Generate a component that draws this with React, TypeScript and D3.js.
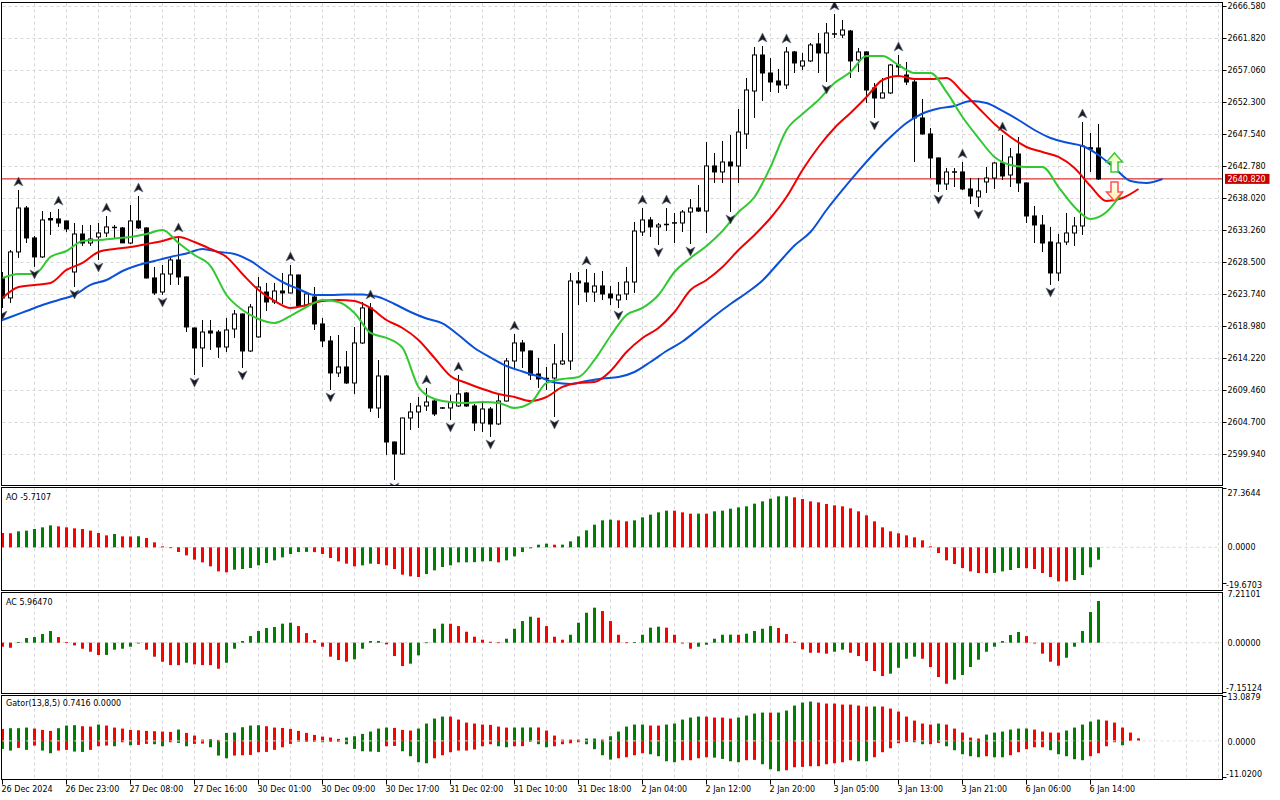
import * as d3 from "d3";

// XAUUSD H1, [open, high, low, close]
const candles: [number, number, number, number][] = [
  [2626.08, 2626.97, 2621.62, 2623.11], [2623.11, 2630.24, 2622.36, 2629.95], [2629.95, 2639.17, 2629.06, 2636.49],
  [2636.49, 2636.79, 2631.28, 2632.03], [2632.03, 2632.33, 2627.72, 2629.21], [2629.21, 2636.04, 2629.06, 2634.71],
  [2634.93, 2635.89, 2632.48, 2634.71], [2634.86, 2636.34, 2633.67, 2634.26], [2634.56, 2634.6, 2632.92, 2633.37],
  [2626.97, 2634.26, 2624.74, 2632.62], [2632.62, 2633.96, 2630.84, 2631.28], [2631.28, 2633.96, 2630.84, 2631.88],
  [2632.18, 2634.26, 2628.76, 2632.77], [2632.77, 2635.3, 2632.18, 2633.67], [2633.67, 2633.96, 2632.03, 2633.52],
  [2633.52, 2633.67, 2631.28, 2631.3], [2631.28, 2636.93, 2631.13, 2634.56], [2634.56, 2638.27, 2633.37, 2633.52],
  [2633.52, 2633.6, 2626.0, 2626.08], [2626.08, 2627.72, 2623.55, 2623.85], [2623.99, 2628.01, 2623.55, 2626.67],
  [2626.67, 2629.06, 2625.04, 2628.76], [2628.76, 2632.33, 2625.04, 2626.23], [2626.23, 2626.3, 2618.04, 2618.79],
  [2618.64, 2618.7, 2611.65, 2615.67], [2615.67, 2619.83, 2612.84, 2618.04], [2618.19, 2619.83, 2615.37, 2617.89],
  [2618.04, 2618.34, 2614.18, 2615.81], [2615.81, 2620.13, 2615.07, 2618.34], [2618.49, 2621.32, 2617.16, 2620.72],
  [2620.72, 2620.8, 2612.69, 2615.22], [2615.22, 2622.21, 2615.07, 2621.76], [2617.31, 2626.23, 2617.2, 2624.74],
  [2623.99, 2625.34, 2621.17, 2622.51], [2622.51, 2625.34, 2622.21, 2624.14], [2624.14, 2626.82, 2622.21, 2623.85],
  [2623.85, 2628.01, 2623.8, 2626.52], [2626.52, 2626.6, 2621.9, 2621.91], [2621.91, 2623.7, 2621.76, 2623.7],
  [2623.25, 2624.74, 2618.34, 2619.24], [2619.24, 2620.13, 2615.81, 2616.71], [2616.71, 2617.45, 2609.42, 2611.95],
  [2611.95, 2617.6, 2611.35, 2612.84], [2612.84, 2615.22, 2610.31, 2610.46], [2610.46, 2618.79, 2608.83, 2616.41],
  [2616.41, 2622.51, 2616.26, 2621.62], [2621.62, 2622.36, 2606.15, 2606.74], [2606.74, 2613.88, 2605.25, 2611.5],
  [2611.5, 2611.65, 2599.75, 2601.68], [2601.68, 2601.75, 2596.03, 2599.9], [2599.9, 2605.3, 2599.75, 2605.25],
  [2605.25, 2607.49, 2603.47, 2606.15], [2606.15, 2608.38, 2603.77, 2607.04], [2607.04, 2609.72, 2606.3, 2607.63],
  [2607.78, 2607.93, 2605.55, 2605.85], [2606.81, 2606.88, 2606.59, 2606.67], [2606.74, 2608.68, 2604.96, 2607.63],
  [2607.04, 2611.65, 2606.89, 2608.83], [2608.97, 2609.12, 2606.89, 2607.04], [2607.04, 2607.34, 2603.32, 2604.51],
  [2604.51, 2607.49, 2603.17, 2606.59], [2606.59, 2606.89, 2602.43, 2604.36], [2604.36, 2608.68, 2604.21, 2607.78],
  [2607.78, 2614.18, 2607.7, 2613.73], [2613.73, 2617.75, 2612.69, 2616.41], [2616.41, 2616.86, 2612.69, 2615.22],
  [2615.22, 2615.3, 2610.91, 2611.65], [2611.8, 2614.18, 2609.72, 2611.06], [2611.2, 2612.84, 2609.42, 2611.06],
  [2611.2, 2616.26, 2605.4, 2613.29], [2613.29, 2617.9, 2613.14, 2613.73], [2613.73, 2626.82, 2612.39, 2625.63],
  [2625.63, 2626.97, 2622.06, 2625.34], [2625.34, 2627.42, 2622.51, 2623.99], [2623.99, 2626.82, 2622.51, 2624.89],
  [2624.89, 2627.12, 2622.81, 2623.7], [2623.7, 2624.89, 2622.06, 2623.11], [2622.81, 2625.48, 2621.62, 2623.55],
  [2623.7, 2627.72, 2622.81, 2625.48], [2625.48, 2634.41, 2623.85, 2633.07], [2632.92, 2636.49, 2632.33, 2634.71],
  [2634.71, 2635.15, 2632.18, 2633.67], [2633.67, 2634.26, 2630.99, 2633.96], [2634.11, 2636.49, 2633.07, 2633.96],
  [2634.34, 2635.75, 2631.28, 2634.19], [2634.26, 2636.19, 2632.92, 2635.89], [2635.89, 2637.83, 2631.13, 2636.49],
  [2636.49, 2639.91, 2635.89, 2636.04], [2636.04, 2646.31, 2632.77, 2642.74], [2642.74, 2644.67, 2640.21, 2641.85],
  [2641.85, 2646.46, 2640.21, 2643.33], [2643.33, 2647.35, 2635.89, 2642.74], [2642.74, 2651.22, 2640.21, 2647.79],
  [2647.5, 2655.83, 2645.27, 2654.04], [2653.89, 2660.44, 2649.88, 2659.25], [2659.25, 2660.59, 2652.41, 2656.57],
  [2656.57, 2658.8, 2653.75, 2655.23], [2655.38, 2657.17, 2653.6, 2654.79], [2654.79, 2660.44, 2654.19, 2659.7],
  [2659.7, 2659.85, 2656.57, 2658.06], [2657.61, 2659.55, 2657.02, 2658.36], [2658.36, 2661.03, 2658.21, 2660.74],
  [2660.89, 2662.52, 2656.57, 2659.55], [2659.55, 2664.01, 2655.23, 2662.52], [2662.3, 2665.35, 2661.78, 2662.45],
  [2662.22, 2664.46, 2661.78, 2662.97], [2662.82, 2662.97, 2655.83, 2658.36], [2658.51, 2660.29, 2656.72, 2659.7],
  [2659.7, 2659.8, 2652.11, 2654.04], [2654.34, 2655.08, 2649.88, 2652.85], [2652.85, 2655.83, 2652.8, 2653.6],
  [2653.6, 2657.9, 2653.45, 2657.76], [2657.76, 2659.25, 2655.97, 2657.47], [2656.27, 2658.21, 2654.79, 2655.23],
  [2655.23, 2655.53, 2643.33, 2649.88], [2649.88, 2652.71, 2647.4, 2647.5], [2647.5, 2648.39, 2640.95, 2643.93],
  [2643.93, 2644.0, 2638.87, 2640.06], [2640.06, 2642.44, 2639.17, 2641.85], [2641.77, 2642.44, 2639.61, 2641.92],
  [2641.85, 2643.33, 2639.17, 2639.32], [2639.32, 2640.95, 2637.08, 2638.27], [2638.12, 2640.95, 2636.64, 2639.02],
  [2640.36, 2642.59, 2638.72, 2640.95], [2640.95, 2643.33, 2639.32, 2643.18], [2643.18, 2647.35, 2640.66, 2641.25],
  [2641.4, 2645.41, 2639.61, 2644.08], [2644.52, 2647.05, 2638.87, 2640.21], [2640.21, 2640.3, 2634.26, 2635.3],
  [2635.3, 2636.79, 2631.28, 2633.96], [2633.96, 2635.45, 2629.95, 2631.28], [2631.43, 2633.67, 2625.04, 2626.82],
  [2626.82, 2632.62, 2625.63, 2631.28], [2631.43, 2635.75, 2630.99, 2632.77], [2632.77, 2635.15, 2630.84, 2633.81],
  [2633.81, 2649.28, 2632.48, 2645.71], [2645.45, 2647.65, 2641.85, 2645.25], [2645.41, 2648.98, 2640.66, 2640.82],
];

const fractalUp = [2, 7, 13, 17, 22, 36, 46, 53, 57, 64, 73, 80, 83, 95, 98, 104, 112, 120, 125, 135];
const fractalDown = [0, 4, 9, 12, 20, 24, 30, 41, 49, 56, 61, 69, 77, 82, 86, 91, 103, 109, 117, 122, 131];

// Alligator, read every second bar. jaw on odd bars from -1, teeth and lips on even bars from 0
const jawStart = -1;
const jaw = [
  2619.38, 2620.28, 2621.17, 2622.06, 2622.81, 2623.55, 2625.04, 2625.78, 2627.12, 2628.01, 2628.61,
  2629.21, 2629.72, 2630.39, 2629.95, 2629.65, 2628.61, 2626.97, 2625.48, 2624.44, 2623.55,
  2623.55, 2623.62, 2623.62, 2623.25, 2622.21, 2621.02, 2620.05, 2619.31, 2617.6, 2615.67,
  2614.25, 2612.99, 2612.17, 2611.42, 2610.53, 2610.31, 2610.76, 2611.13, 2611.35, 2612.09,
  2613.58, 2615.22, 2616.63, 2618.49, 2620.43, 2622.21, 2623.85, 2625.71, 2628.31, 2630.91,
  2632.92, 2636.19, 2639.17, 2642.0, 2644.67, 2647.05, 2649.13, 2650.55, 2651.29, 2651.66,
  2652.41, 2652.11, 2650.92, 2649.58, 2648.09, 2646.9, 2646.23, 2645.71, 2644.37, 2642.44,
  2640.51, 2640.21, 2640.8,
];
const teethStart = 0;
const teeth = [
  2623.11, 2624.74, 2625.04, 2625.34, 2627.27, 2628.31, 2629.95, 2630.39, 2630.69, 2631.13,
  2631.58, 2632.18, 2631.43, 2630.39, 2629.21, 2626.67, 2624.29, 2622.66, 2621.62, 2622.06,
  2622.66, 2622.81, 2622.66, 2621.62, 2619.83, 2618.64, 2616.86, 2614.18, 2611.5, 2610.46,
  2609.57, 2608.82, 2608.38, 2607.78, 2608.38, 2609.87, 2610.46, 2610.61, 2612.24, 2615.07,
  2617.16, 2618.64, 2621.02, 2624.29, 2625.78, 2627.72, 2630.24, 2632.48, 2635.0, 2638.12,
  2642.14, 2645.56, 2648.39, 2650.62, 2653.0, 2655.53, 2656.12, 2655.68, 2655.68, 2655.83,
  2653.75, 2651.37, 2648.99, 2647.05, 2645.56, 2644.82, 2644.08, 2642.44, 2639.76, 2637.53,
  2637.98, 2639.32,
];
const lipsStart = 0;
const lips = [
  2626.08, 2626.67, 2626.67, 2629.21, 2630.09, 2631.58, 2631.73, 2631.95, 2632.18, 2632.62,
  2633.22, 2631.28, 2629.5, 2627.86, 2623.55, 2621.32, 2619.98, 2619.38, 2620.43, 2621.76,
  2622.81, 2622.51, 2620.87, 2617.9, 2617.16, 2615.67, 2609.87, 2608.08, 2607.63, 2607.49,
  2607.63, 2607.49, 2606.74, 2607.49, 2610.46, 2611.06, 2611.35, 2613.88, 2617.45, 2620.57,
  2621.62, 2623.55, 2626.97, 2629.06, 2630.84, 2633.07, 2635.89, 2638.12, 2642.59, 2648.09,
  2650.47, 2652.56, 2655.08, 2656.72, 2659.1, 2659.1, 2657.76, 2656.57, 2656.57, 2653.75,
  2650.03, 2646.9, 2644.08, 2642.89, 2642.59, 2642.59, 2639.61, 2636.64, 2634.86, 2635.89,
  2638.87,
];

const ao = [
  6.61, 6.5, 7.38, 7.69, 8.45, 9.22, 10.14, 9.68, 9.22, 8.76,
  8.45, 7.69, 6.61, 5.53, 6.15, 5.07, 5.0, 5.1, 4.3, 2.31,
  0.46, -0.31, -2.15, -3.69, -5.69, -6.92, -8.76, -11.07, -11.53, -10.3,
  -9.99, -9.53, -8.3, -7.22, -5.99, -4.61, -3.07, -2.15, -2.1, -2.2,
  -3.07, -4.92, -6.46, -7.53, -8.76, -8.3, -7.53, -7.69, -8.3, -9.99,
  -12.6, -13.37, -13.68, -12.3, -10.61, -9.07, -8.3, -6.92, -6.9, -6.85,
  -6.46, -6.4, -6.92, -5.99, -4.15, -2.15, -0.46, 1.23, 1.69, 1.23,
  1.25, 2.77, 5.07, 7.84, 10.45, 12.45, 12.76, 12.45, 11.99, 12.45,
  13.83, 15.06, 16.14, 16.91, 16.9, 16.14, 15.52, 15.55, 15.5, 16.6,
  16.91, 17.83, 18.44, 18.91, 20.14, 21.21, 22.44, 23.52, 23.55, 23.06,
  22.29, 21.21, 20.75, 19.98, 19.37, 18.91, 17.98, 16.6, 14.76, 11.99,
  9.22, 7.38, 6.46, 5.53, 4.61, 3.23, 0.46, -2.61, -5.99, -7.69,
  -9.53, -11.07, -11.84, -11.9, -11.8, -11.07, -10.45, -9.53, -9.6, -9.99,
  -11.84, -13.68, -15.68, -15.7, -15.06, -12.76, -9.22, -5.7107,
];
const ac = [
  -0.57, -0.72, 0.1, 0.67, 0.81, 1.24, 1.67, 0.81, 0.1, -0.38,
  -0.86, -1.29, -1.76, -1.75, -1.0, -0.86, -0.57, -0.1, -1.0, -2.0,
  -2.72, -3.2, -3.21, -2.86, -3.1, -3.2, -3.21, -3.72, -2.86, -0.86,
  0.24, 0.95, 1.67, 2.1, 2.24, 2.72, 2.86, 2.38, 1.38, 0.38,
  -0.57, -2.0, -2.48, -2.72, -2.38, -0.86, 0.24, 0.25, -0.24, -1.91,
  -3.34, -3.0, -1.81, 0.05, 2.0, 2.72, 2.71, 2.38, 1.57, 0.86,
  0.43, 0.14, 0.05, 0.57, 2.0, 3.1, 3.72, 3.58, 2.38, 0.86,
  0.43, 1.14, 2.86, 4.29, 5.01, 4.53, 3.1, 1.14, 0.05, 0.1,
  1.14, 2.15, 2.29, 2.15, 1.14, -0.05, -0.86, -0.57, -0.29, 0.57,
  1.14, 1.15, 1.14, 1.29, 1.67, 2.0, 2.38, 2.1, 1.24, 0.14,
  -0.95, -1.43, -1.44, -1.57, -1.29, -1.0, -1.43, -1.91, -2.62, -4.05,
  -4.77, -4.43, -3.58, -2.29, -2.0, -2.29, -3.48, -4.91, -5.87, -5.29,
  -4.63, -3.48, -2.43, -1.29, -0.57, 0.24, 1.1, 1.53, 0.95, -0.05,
  -1.57, -2.72, -3.29, -2.15, -0.57, 1.67, 4.39, 5.9647,
];
const gatorUp = [
  3.44, 3.64, 3.65, 3.83, 3.54, 3.16, 2.87, 3.64, 4.4, 4.5,
  4.21, 4.11, 4.69, 4.4, 3.83, 3.54, 3.16, 3.06, 2.87, 2.78,
  2.68, 2.58, 3.25, 2.3, 1.53, 0.38, 0.48, 0.29, 2.3, 2.39,
  3.92, 4.4, 4.5, 4.21, 3.83, 3.73, 3.44, 2.87, 2.3, 1.72,
  1.24, 0.96, 0.57, 0.96, 1.34, 2.01, 2.68, 3.54, 3.83, 3.73,
  3.16, 2.97, 3.54, 4.98, 6.41, 6.99, 6.98, 6.12, 5.26, 4.98,
  4.69, 4.6, 4.11, 3.83, 3.84, 3.85, 3.86, 3.85, 2.97, 1.53,
  0.38, 0.37, 0.36, 0.67, 0.68, 0.38, 1.34, 2.68, 4.11, 4.69,
  4.7, 4.4, 4.39, 4.69, 4.98, 6.12, 6.7, 6.99, 6.98, 6.7,
  6.69, 6.41, 6.7, 7.27, 7.85, 8.13, 8.12, 8.14, 8.71, 10.14,
  11.0, 11.29, 11.0, 10.72, 10.71, 10.43, 10.42, 10.14, 9.86, 9.87,
  9.86, 9.28, 8.42, 6.99, 5.84, 4.98, 4.69, 4.98, 4.69, 3.54,
  2.39, 0.96, 0.67, 1.82, 2.39, 2.68, 3.25, 3.54, 3.55, 3.25,
  2.68, 2.39, 2.38, 2.97, 3.83, 4.69, 5.55, 6.12, 5.84, 5.26,
  3.83, 2.39, 0.7416,
];
const gatorDown = [
  -2.3, -2.78, -2.01, -2.58, -1.34, -2.78, -3.54, -2.78, -2.58, -3.06,
  -3.16, -2.58, -1.53, -1.34, -1.53, -0.38, -1.24, -1.15, -0.86, -0.96,
  -1.53, -0.38, -0.57, -1.53, -0.86, -0.77, -1.82, -4.21, -4.98, -4.21,
  -4.11, -4.02, -3.25, -3.16, -2.58, -1.82, -0.86, -0.19, -0.1, -0.19,
  -0.38, -0.19, -0.1, -0.96, -2.3, -2.97, -3.06, -3.16, -1.53, -1.44,
  -2.97, -4.4, -6.12, -6.41, -4.98, -4.11, -3.25, -2.78, -2.77, -2.49,
  -1.53, -0.96, -1.53, -1.82, -1.53, -1.52, -0.19, -0.96, -1.82, -1.53,
  -0.96, -0.67, -0.38, -0.96, -2.39, -4.11, -5.36, -4.98, -4.69, -4.11,
  -3.54, -3.83, -4.4, -5.84, -6.12, -5.55, -5.54, -4.98, -4.69, -4.8,
  -5.17, -5.84, -6.12, -5.55, -5.45, -6.7, -8.13, -8.71, -8.42, -7.56,
  -7.46, -7.27, -7.26, -6.7, -6.41, -6.12, -5.55, -5.84, -5.85, -4.69,
  -3.25, -2.11, -0.67, -0.29, -0.38, -0.96, -0.95, -0.57, -1.53, -2.68,
  -3.83, -4.4, -4.69, -4.4, -4.69, -4.7, -4.11, -3.25, -2.39, -1.82,
  -1.81, -2.68, -3.83, -4.4, -5.26, -5.55, -4.4, -3.54, -1.53, -0.38,
  -1.24,
];

const priceTicks = [2666.58, 2661.82, 2657.06, 2652.3, 2647.54, 2642.78, 2638.02, 2633.26, 2628.5, 2623.74, 2618.98, 2614.22, 2609.46, 2604.7, 2599.94];
const lastPrice = 2640.82;
const timeLabels = [
  "26 Dec 2024", "26 Dec 23:00", "27 Dec 08:00", "27 Dec 16:00", "30 Dec 01:00", "30 Dec 09:00",
  "30 Dec 17:00", "31 Dec 02:00", "31 Dec 10:00", "31 Dec 18:00", "2 Jan 04:00", "2 Jan 12:00",
  "2 Jan 20:00", "3 Jan 05:00", "3 Jan 13:00", "3 Jan 21:00", "6 Jan 06:00", "6 Jan 14:00",
];
const aoRange = [-19.6703, 27.3644];
const acRange = [-7.15124, 7.21101];
const gatorRange = [-11.02, 13.0879];
// signal arrows on the last bars: [bar, top price, bottom price]
const signalUp = [139, 2644.67, 2641.85];
const signalDown = [139, 2640.36, 2637.53];

const FONT = "Tahoma, 'DejaVu Sans', sans-serif";
const GREEN = "#008000";
const RED = "#ff0000";
const GRID = "#d6d6d6";
const LEFT = 1.5;
const RIGHT = 1222.5;
const panels = {
  main: { top: 2.5, bottom: 485.5 },
  ao: { top: 487.5, bottom: 590.5 },
  ac: { top: 592.5, bottom: 693.5 },
  gator: { top: 695.5, bottom: 779.5 },
};

function risingColors(vals: number[], firstUp: boolean) {
  return vals.map((v, i) => (i === 0 ? firstUp : v > vals[i - 1]) ? GREEN : RED);
}

export default function App() {
  const x = d3.scaleLinear().domain([0, 137]).range([2.5, 1098.5]);
  const y = d3.scaleLinear().domain([2599.94, 2666.58]).range([453.7, 5.7]);
  const yAO = d3.scaleLinear().domain(aoRange).range([590, 488]);
  const yAC = d3.scaleLinear().domain(acRange).range([692.7, 592.3]);
  const yG = d3.scaleLinear().domain(gatorRange).range([779.3, 695.3]);

  const line = (start: number, vals: number[]) =>
    d3.line<number>()
      .x((_, k) => x(start + 2 * k))
      .y((v) => y(v))
      .curve(d3.curveMonotoneX)(vals) || "";

  const vGrid = d3.range(1, 39).map((k) => x(4 * k));

  const histogram = (vals: number[], colors: string[], ys: d3.ScaleLinear<number, number>) =>
    vals.map((v, i) => {
      const y0 = ys(0);
      const y1 = ys(v);
      return (
        <rect
          key={i}
          x={x(i) - 1.5}
          y={Math.min(y0, y1)}
          width={3}
          height={Math.max(Math.abs(y1 - y0), 0.8)}
          fill={colors[i]}
        />
      );
    });

  const gDownColors = gatorDown.map((v, i) => (i === 0 ? true : Math.abs(v) > Math.abs(gatorDown[i - 1])) ? GREEN : RED);

  const frame = (p: { top: number; bottom: number }) => (
    <rect x={LEFT} y={p.top} width={RIGHT - LEFT} height={p.bottom - p.top} fill="none" stroke="#000" strokeWidth={1} />
  );

  const panelGrid = (p: { top: number; bottom: number }, zeroY: number | null) => (
    <g stroke={GRID} strokeWidth={1} strokeDasharray="3,3">
      {vGrid.map((gx) => (
        <line key={gx} x1={gx} x2={gx} y1={p.top + 1} y2={p.bottom - 1} />
      ))}
      {zeroY !== null && <line x1={LEFT + 1} x2={RIGHT - 1} y1={zeroY} y2={zeroY} />}
    </g>
  );

  const arrowUp = (bar: number, top: number, bottom: number) => {
    const cx = x(bar);
    const ty = y(top);
    const by = y(bottom);
    const hy = ty + 9;
    return `M${cx},${ty} L${cx + 8},${hy} L${cx + 3.5},${hy} L${cx + 3.5},${by} L${cx - 3.5},${by} L${cx - 3.5},${hy} L${cx - 8},${hy} Z`;
  };
  const arrowDown = (bar: number, top: number, bottom: number) => {
    const cx = x(bar);
    const ty = y(top);
    const by = y(bottom);
    const hy = by - 9;
    return `M${cx},${by} L${cx + 8},${hy} L${cx + 3.5},${hy} L${cx + 3.5},${ty} L${cx - 3.5},${ty} L${cx - 3.5},${hy} L${cx - 8},${hy} Z`;
  };

  const lastY = y(lastPrice);

  return (
    <div style={{ position: "absolute", left: 0, top: 0, width: 1280, height: 800, background: "#fff" }}>
      <svg width={1280} height={800} style={{ display: "block", fontFamily: FONT }}>
        <defs>
          <clipPath id="clip-main">
            <rect x={LEFT + 0.5} y={panels.main.top + 0.5} width={RIGHT - LEFT - 1} height={panels.main.bottom - panels.main.top - 1} />
          </clipPath>
          <clipPath id="clip-sub">
            <rect x={LEFT + 0.5} y={0} width={RIGHT - LEFT - 1} height={800} />
          </clipPath>
          <linearGradient id="up-fill" x1="0" y1="0" x2="0" y2="1">
            <stop offset="0" stopColor="#f0ffb0" />
            <stop offset="1" stopColor="#ffffff" />
          </linearGradient>
          <linearGradient id="down-fill" x1="0" y1="0" x2="0" y2="1">
            <stop offset="0" stopColor="#ffffff" />
            <stop offset="1" stopColor="#fff0a0" />
          </linearGradient>
        </defs>
        <rect width={1280} height={800} fill="#fff" />

        {/* main chart */}
        <g stroke={GRID} strokeWidth={1} strokeDasharray="3,3">
          {priceTicks.map((t) => (
            <line key={t} x1={LEFT + 1} x2={RIGHT - 1} y1={Math.round(y(t)) + 0.5} y2={Math.round(y(t)) + 0.5} />
          ))}
          {vGrid.map((gx) => (
            <line key={gx} x1={gx} x2={gx} y1={panels.main.top + 1} y2={panels.main.bottom - 1} />
          ))}
        </g>
        <g clipPath="url(#clip-main)">
          <line x1={LEFT} x2={RIGHT} y1={lastY} y2={lastY} stroke="#d00000" strokeWidth={1} />
          {candles.map(([o, h, l, c], i) => {
            const cx = x(i);
            const top = y(Math.max(o, c));
            const bot = y(Math.min(o, c));
            const bull = c >= o;
            return (
              <g key={i}>
                <line x1={cx} x2={cx} y1={y(h)} y2={y(l)} stroke="#000" strokeWidth={1} />
                {bot - top < 1.2 ? (
                  <line x1={cx - 2.5} x2={cx + 2.5} y1={(top + bot) / 2} y2={(top + bot) / 2} stroke="#000" strokeWidth={1.5} />
                ) : (
                  <rect x={cx - 2} y={top} width={4} height={bot - top} fill={bull ? "#fff" : "#000"} stroke="#000" strokeWidth={1} />
                )}
              </g>
            );
          })}
          <path d={line(jawStart, jaw)} fill="none" stroke="#0a50d8" strokeWidth={2} />
          <path d={line(teethStart, teeth)} fill="none" stroke="#f00000" strokeWidth={2} />
          <path d={line(lipsStart, lips)} fill="none" stroke="#32c832" strokeWidth={2} />
          {fractalUp.map((i) => {
            const cx = x(i);
            const cy = y(candles[i][1]) - 8;
            return (
              <path
                key={"u" + i}
                d={`M${cx},${cy - 5} L${cx + 4.5},${cy + 4} L${cx},${cy + 1.5} L${cx - 4.5},${cy + 4} Z`}
                fill="#1a1a1a"
                stroke="#5a6a88"
                strokeWidth={0.6}
              />
            );
          })}
          {fractalDown.map((i) => {
            const cx = x(i);
            const cy = y(candles[i][2]) + 7;
            return (
              <path
                key={"d" + i}
                d={`M${cx},${cy + 5} L${cx + 4.5},${cy - 4} L${cx},${cy - 1.5} L${cx - 4.5},${cy - 4} Z`}
                fill="#1a1a1a"
                stroke="#5a6a88"
                strokeWidth={0.6}
              />
            );
          })}
          <path d={arrowUp(signalUp[0], signalUp[1], signalUp[2])} fill="url(#up-fill)" stroke="#3cc83c" strokeWidth={1.5} />
          <path d={arrowDown(signalDown[0], signalDown[1], signalDown[2])} fill="url(#down-fill)" stroke="#ff5050" strokeWidth={1.5} />
        </g>
        {frame(panels.main)}

        {/* price axis */}
        <g fontSize={8} fill="#000">
          {priceTicks.map((t) => (
            <g key={t}>
              <line x1={RIGHT} x2={RIGHT + 4} y1={Math.round(y(t)) + 0.5} y2={Math.round(y(t)) + 0.5} stroke="#000" />
              <text x={1227.5} y={y(t) + 3}>{t.toFixed(3)}</text>
            </g>
          ))}
        </g>
        <rect x={1225} y={lastY - 5} width={44.5} height={10} fill="#c80000" />
        <text x={1227.5} y={lastY + 3} fontSize={8} fill="#fff">{lastPrice.toFixed(3)}</text>

        {/* AO */}
        {panelGrid(panels.ao, yAO(0))}
        <g clipPath="url(#clip-sub)">{histogram(ao, risingColors(ao, false), yAO)}</g>
        {frame(panels.ao)}
        <text x={6} y={499.5} fontSize={8}>{`AO ${ao[ao.length - 1].toFixed(4)}`}</text>

        {/* AC */}
        {panelGrid(panels.ac, yAC(0))}
        <g clipPath="url(#clip-sub)">{histogram(ac, risingColors(ac, false), yAC)}</g>
        {frame(panels.ac)}
        <text x={6} y={604.5} fontSize={8}>{`AC ${ac[ac.length - 1].toFixed(5)}`}</text>

        {/* Gator */}
        {panelGrid(panels.gator, null)}
        <g clipPath="url(#clip-sub)">
          {histogram(gatorUp, risingColors(gatorUp, false), yG)}
          {histogram(gatorDown, gDownColors, yG)}
        </g>
        <line x1={LEFT + 1} x2={RIGHT - 1} y1={yG(0)} y2={yG(0)} stroke="#e4e4e4" strokeDasharray="3,3" />
        {frame(panels.gator)}
        <text x={6} y={706} fontSize={8}>{`Gator(13,8,5) ${gatorUp[gatorUp.length - 1].toFixed(4)} ${(0).toFixed(4)}`}</text>

        {/* sub-window scales */}
        <g fontSize={8} fill="#000">
          <text x={1227.5} y={495.5}>{aoRange[1].toFixed(4)}</text>
          <text x={1227.5} y={550}>{(0).toFixed(4)}</text>
          <text x={1226} y={588}>{aoRange[0].toFixed(4)}</text>
          <text x={1227.5} y={596.5}>{acRange[1].toFixed(5)}</text>
          <text x={1227.5} y={646}>{(0).toFixed(5)}</text>
          <text x={1226} y={691}>{acRange[0].toFixed(5)}</text>
          <text x={1227.5} y={700}>{gatorRange[1].toFixed(4)}</text>
          <text x={1227.5} y={744.5}>{(0).toFixed(4)}</text>
          <text x={1226} y={777}>{gatorRange[0].toFixed(4)}</text>
        </g>
        <g stroke="#000" strokeWidth={1}>
          {[488.5, 583.5, 692.5, 696.5, 777.5].map((ty) => (
            <line key={ty} x1={RIGHT} x2={RIGHT + 4} y1={ty} y2={ty} />
          ))}
        </g>

        {/* time axis */}
        <g fontSize={8} fill="#000">
          {timeLabels.map((t, k) => {
            const tx = x(8 * k);
            return (
              <g key={t}>
                <line x1={tx} x2={tx} y1={panels.gator.bottom} y2={panels.gator.bottom + 5} stroke="#000" />
                <text x={tx - 1} y={791.5}>{t}</text>
              </g>
            );
          })}
        </g>
      </svg>
    </div>
  );
}
